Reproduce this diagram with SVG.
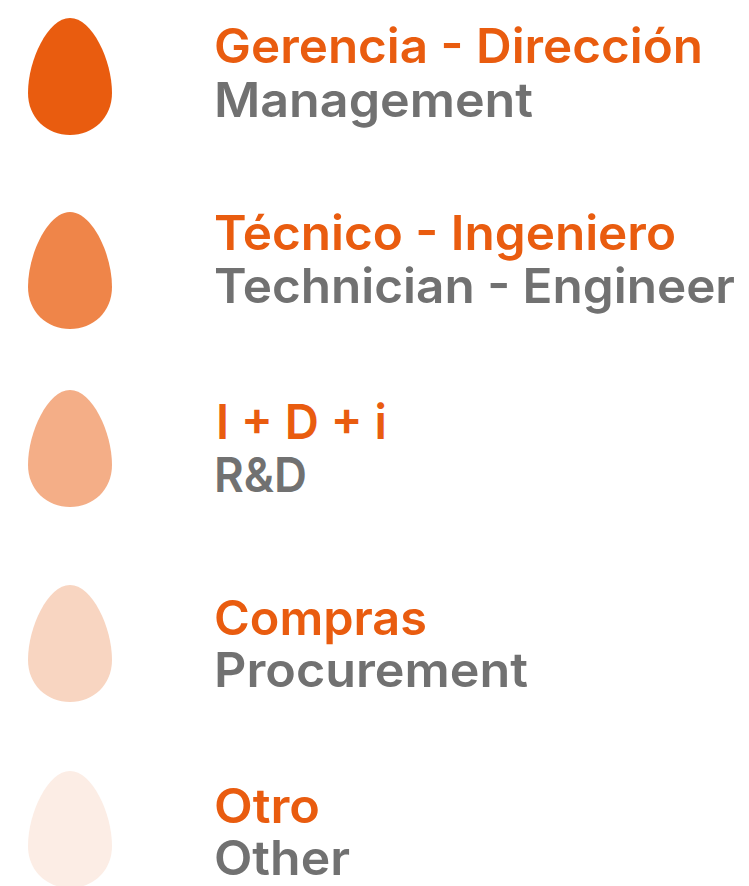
<svg xmlns="http://www.w3.org/2000/svg" width="749" height="886" viewBox="0 0 749 886">
<defs>
<path id="egg" d="M70,0 C92,0 112,42 112,75 C112,100 93,117 70,117 C47,117 28,100 28,75 C28,42 48,0 70,0 Z"/>
</defs>
<style>
text{font-family:Inter,"Noto Sans","Liberation Sans",sans-serif;font-weight:600;font-size:48px}
.es{fill:#E95C0F}
.en{fill:#717171}
</style>
<rect width="749" height="886" fill="#FFFFFF"/>
<g id="management">
<use href="#egg" y="18" fill="#E95C0F"/>
<text class="es" x="214" y="63" textLength="489" lengthAdjust="spacingAndGlyphs">Gerencia - Dirección</text>
<text class="en" x="214" y="117" textLength="319" lengthAdjust="spacingAndGlyphs">Management</text>
</g>
<g id="technician">
<use href="#egg" y="212" fill="#EF8549"/>
<text class="es" x="214" y="250" textLength="462" lengthAdjust="spacingAndGlyphs">Técnico - Ingeniero</text>
<text class="en" x="214" y="303" textLength="521" lengthAdjust="spacingAndGlyphs">Technician - Engineer</text>
</g>
<g id="rd">
<use href="#egg" y="390" fill="#F4AE87"/>
<text class="es" x="216" y="439" textLength="171" lengthAdjust="spacingAndGlyphs">I + D + i</text>
<text class="en" x="214" y="492" textLength="93" lengthAdjust="spacingAndGlyphs">R&amp;D</text>
</g>
<g id="procurement">
<use href="#egg" y="585" fill="#F8D5C1"/>
<text class="es" x="214" y="635" textLength="213" lengthAdjust="spacingAndGlyphs">Compras</text>
<text class="en" x="214" y="687" textLength="314" lengthAdjust="spacingAndGlyphs">Procurement</text>
</g>
<g id="other">
<use href="#egg" y="771" fill="#FCEDE5"/>
<text class="es" x="214" y="823" textLength="106" lengthAdjust="spacingAndGlyphs">Otro</text>
<text class="en" x="214" y="875" textLength="136" lengthAdjust="spacingAndGlyphs">Other</text>
</g>
<g id="connectors"/>
</svg>
